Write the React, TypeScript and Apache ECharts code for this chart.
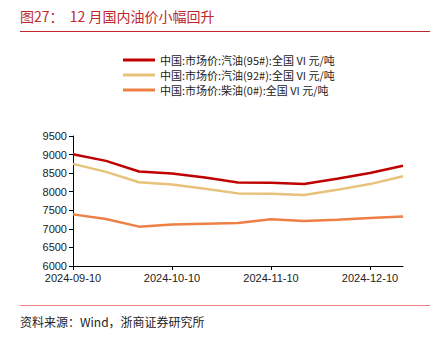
import React, { useEffect, useRef } from "react";
import * as echarts from "echarts";

const dates = [
  "2024-09-10", "2024-09-20", "2024-09-30", "2024-10-10", "2024-10-20", "2024-10-31",
  "2024-11-10", "2024-11-20", "2024-11-30", "2024-12-10", "2024-12-20",
];
const gas95 = [9010, 8830, 8545, 8490, 8380, 8250, 8240, 8205, 8350, 8505, 8700];
const gas92 = [8750, 8535, 8255, 8195, 8080, 7955, 7945, 7910, 8050, 8205, 8415];
const diesel0 = [7390, 7265, 7060, 7120, 7140, 7155, 7260, 7210, 7245, 7295, 7335];
const seriesNames = [
  "中国:市场价:汽油(95#):全国 VI 元/吨",
  "中国:市场价:汽油(92#):全国 VI 元/吨",
  "中国:市场价:柴油(0#):全国 VI 元/吨",
];
const colors = ["#C00000", "#E6C27A", "#EE7F45"];

export default function App() {
  const ref = useRef<HTMLDivElement>(null);
  useEffect(() => {
    if (!ref.current) return;
    const chart = echarts.init(ref.current, null, { renderer: "svg" });
    const mk = (name: string, data: number[], color: string) => ({
      name,
      type: "line",
      data,
      symbol: "none",
      lineStyle: { color, width: 2.5 },
      itemStyle: { color },
    });
    chart.setOption({
      animation: false,
      backgroundColor: "#fff",
      graphic: [
        {
          type: "text",
          left: 20,
          top: 9,
          style: {
            text: "图27：  12 月国内油价小幅回升",
            fill: "#C0282D",
            font: "14px 'Noto Sans CJK SC', serif",
          },
        },
        {
          type: "line",
          shape: { x1: 20, y1: 31.5, x2: 430, y2: 31.5 },
          style: { stroke: "#C0282D", lineWidth: 1 },
        },
        {
          type: "line",
          shape: { x1: 20, y1: 305.5, x2: 430, y2: 305.5 },
          style: { stroke: "#E88080", lineWidth: 1 },
        },
        {
          type: "text",
          left: 20,
          top: 315,
          style: {
            text: "资料来源：Wind，浙商证券研究所",
            fill: "#222",
            font: "12px 'Noto Sans CJK SC', serif",
          },
        },
      ],
      legend: {
        orient: "vertical",
        left: 118,
        top: 49,
        itemWidth: 32,
        itemHeight: 3,
        itemGap: 3,
        icon: "rect",
        textStyle: {
          fontSize: 11,
          lineHeight: 12,
          color: "#222",
          fontFamily: "'Noto Sans CJK SC', sans-serif",
          padding: [0, 0, 0, 0],
        },
        data: seriesNames,
      },
      grid: { left: 73, right: 35, top: 136, bottom: 72, containLabel: false },
      xAxis: {
        type: "category",
        data: dates,
        boundaryGap: false,
        axisLine: { lineStyle: { color: "#000" } },
        axisTick: { interval: 2, length: 4, lineStyle: { color: "#000" } },
        axisLabel: { interval: 2, color: "#222", fontSize: 11, margin: 6, fontFamily: "Arial, 'Liberation Sans', sans-serif" },
        splitLine: { show: false },
      },
      yAxis: {
        type: "value",
        min: 6000,
        max: 9500,
        interval: 500,
        axisLine: { show: true, lineStyle: { color: "#000" } },
        axisTick: { show: true, length: 4, lineStyle: { color: "#000" } },
        axisLabel: {
          color: "#222",
          fontSize: 11,
          margin: 6,
          fontFamily: "Arial, 'Liberation Sans', sans-serif",
          formatter: (v: number) => String(v),
        },
        splitLine: { show: false },
      },
      series: [
        mk(seriesNames[0], gas95, colors[0]),
        mk(seriesNames[1], gas92, colors[1]),
        mk(seriesNames[2], diesel0, colors[2]),
      ],
    });
    return () => chart.dispose();
  }, []);
  return <div ref={ref} style={{ width: 438, height: 338, position: "absolute", left: 0, top: 0 }} />;
}
